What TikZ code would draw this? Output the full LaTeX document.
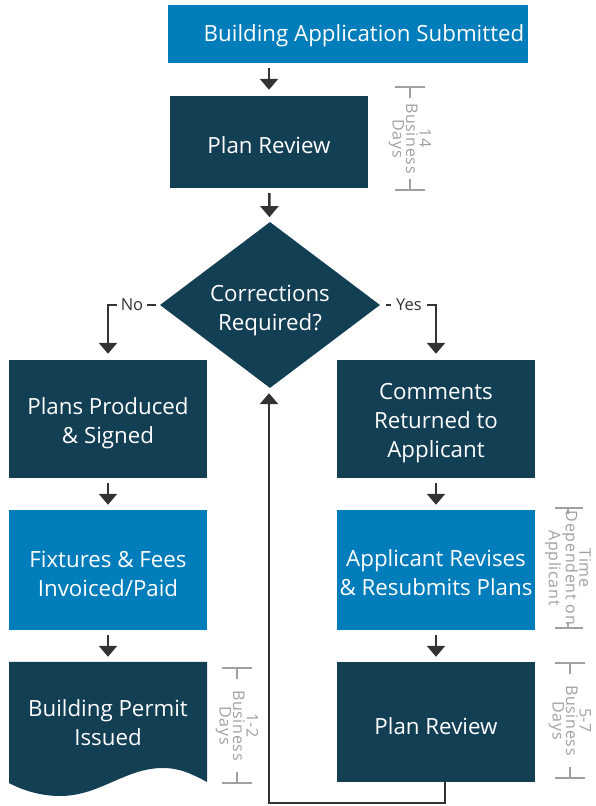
\documentclass[tikz,border=0pt]{standalone}
\usepackage{fontspec}
\setmainfont{Open Sans}
\newfontfamily\brfont{Open Sans}[LetterSpace=4.5]
\usetikzlibrary{shapes.geometric,arrows.meta}
\definecolor{darkbox}{HTML}{133F55}
\definecolor{bluebox}{HTML}{007DBA}
\definecolor{arrowc}{HTML}{333333}
\definecolor{brc}{HTML}{A0A0A0}
\tikzset{
  x=1pt,y=1pt,
  boxbase/.style={rectangle,inner sep=0pt,minimum width=198pt},
  darkb/.style={boxbase,fill=darkbox},
  blueb/.style={boxbase,fill=bluebox},
  tx/.style={inner sep=0pt,align=center,text=white,font=\fontsize{22.3}{29}\selectfont},
  conn/.style={draw=arrowc,line width=2.5pt,-{Triangle[width=18pt,length=11pt]}},
  lbl/.style={fill=white,text=arrowc,inner xsep=4pt,inner ysep=1pt,font=\fontsize{16.5}{18}\selectfont},
  brline/.style={draw=brc,line width=1.6pt},
  brtext/.style={text=brc,rotate=-90,align=center,inner sep=0pt,font=\brfont\fontsize{16}{13.5}\selectfont},
}
\begin{document}
\begin{tikzpicture}
\useasboundingbox (0,0) rectangle (595,806);
% boxes
\node[blueb,minimum width=360pt,minimum height=58pt] (top) at (348,772) {};
\node[tx] (topt) at (364,770) {Building Application Submitted};
\node[darkb,minimum height=92pt] (pr1) at (269,664) {};
\node[tx] (pr1t) at (269,661) {Plan Review};
\node[diamond,fill=darkbox,inner sep=0pt,minimum width=220pt,minimum height=166pt] (dia) at (270,501) {};
\node[tx] (diat) at (270,495) {Corrections\\Required?};
\node[darkb,minimum height=118pt] (ppro) at (108,387) {};
\node[tx] (pprot) at (108,383) {Plans Produced\\\& Signed};
\node[blueb,minimum height=120pt] (fix) at (108,236) {};
\node[tx] (fixt) at (108,232.5) {Fixtures \& Fees\\Invoiced/Paid};
\node[boxbase,minimum height=120pt] (permit) at (108,84) {};
\fill[darkbox] (9,144) -- (207,144) -- (207,24)
  .. controls (192,32) and (180,38) .. (163,38)
  .. controls (125,38) and (100,10) .. (60,10)
  .. controls (40,10) and (22,16) .. (9,23) -- cycle;
\node[tx] (permitt) at (108,83.5) {Building Permit\\Issued};
\node[darkb,minimum height=118pt] (com) at (436,387) {};
\node[tx] (comt) at (436,383) {Comments\\Returned to\\Applicant};
\node[blueb,minimum height=120pt] (rev) at (436,236) {};
\node[tx] (revt) at (436,233) {Applicant Revises\\\& Resubmits Plans};
\node[darkb,minimum height=120pt] (pr2) at (436,84) {};
\node[tx] (pr2t) at (436,80) {Plan Review};
% connectors
\draw[conn,shorten <=5pt,shorten >=6pt] (top.south -| pr1) -- (pr1);
\draw[conn,shorten <=5pt,shorten >=5pt] (pr1) -- (dia);
\draw[conn,shorten <=5pt,shorten >=5pt] (ppro) -- (fix);
\draw[conn,shorten <=5pt,shorten >=5pt] (fix) -- (permit);
\draw[conn,shorten <=5pt,shorten >=5pt] (com) -- (rev);
\draw[conn,shorten <=5pt,shorten >=5pt] (rev) -- (pr2);
\draw[conn,shorten <=4pt,shorten >=6pt] (dia.west) -| (ppro.north);
\draw[conn,shorten <=6pt,shorten >=6pt] (dia.east) -| (com.north);
\node[lbl] (no) at (132,501) {No};
\node[lbl,inner xsep=5pt] (yes) at (409,501) {Yes};
\coordinate (r1) at (445,3);
\coordinate (r2) at (269,3);
\draw[conn,shorten >=5pt] (pr2.south -| r1) -- (r1) -- (r2) -- (r2 |- dia.south);
% brackets
\draw[brline] (395,719) -- (425,719) (410,719) -- (410,708);
\draw[brline] (395,616) -- (425,616) (410,616) -- (410,627);
\node[brtext] (b1) at (410,667.5) {14\\Business\\Days};
\draw[brline] (555,298) -- (583,298) (568,298) -- (568,292);
\draw[brline] (555,178) -- (583,178) (568,178) -- (568,184);
\node[brtext] (b2) at (568,238) {Time\\Dependent on\\Applicant};
\draw[brline] (555,143) -- (585,143) (570,143) -- (570,132);
\draw[brline] (555,28) -- (585,28) (570,28) -- (570,39);
\node[brtext] (b3) at (570,85.5) {5-7\\Business\\Days};
\draw[brline] (222,138) -- (252,138) (237,138) -- (237,127);
\draw[brline] (222,23) -- (252,23) (237,23) -- (237,34);
\node[brtext] (b4) at (237,80.5) {1-2\\Business\\Days};
\end{tikzpicture}
\end{document}
